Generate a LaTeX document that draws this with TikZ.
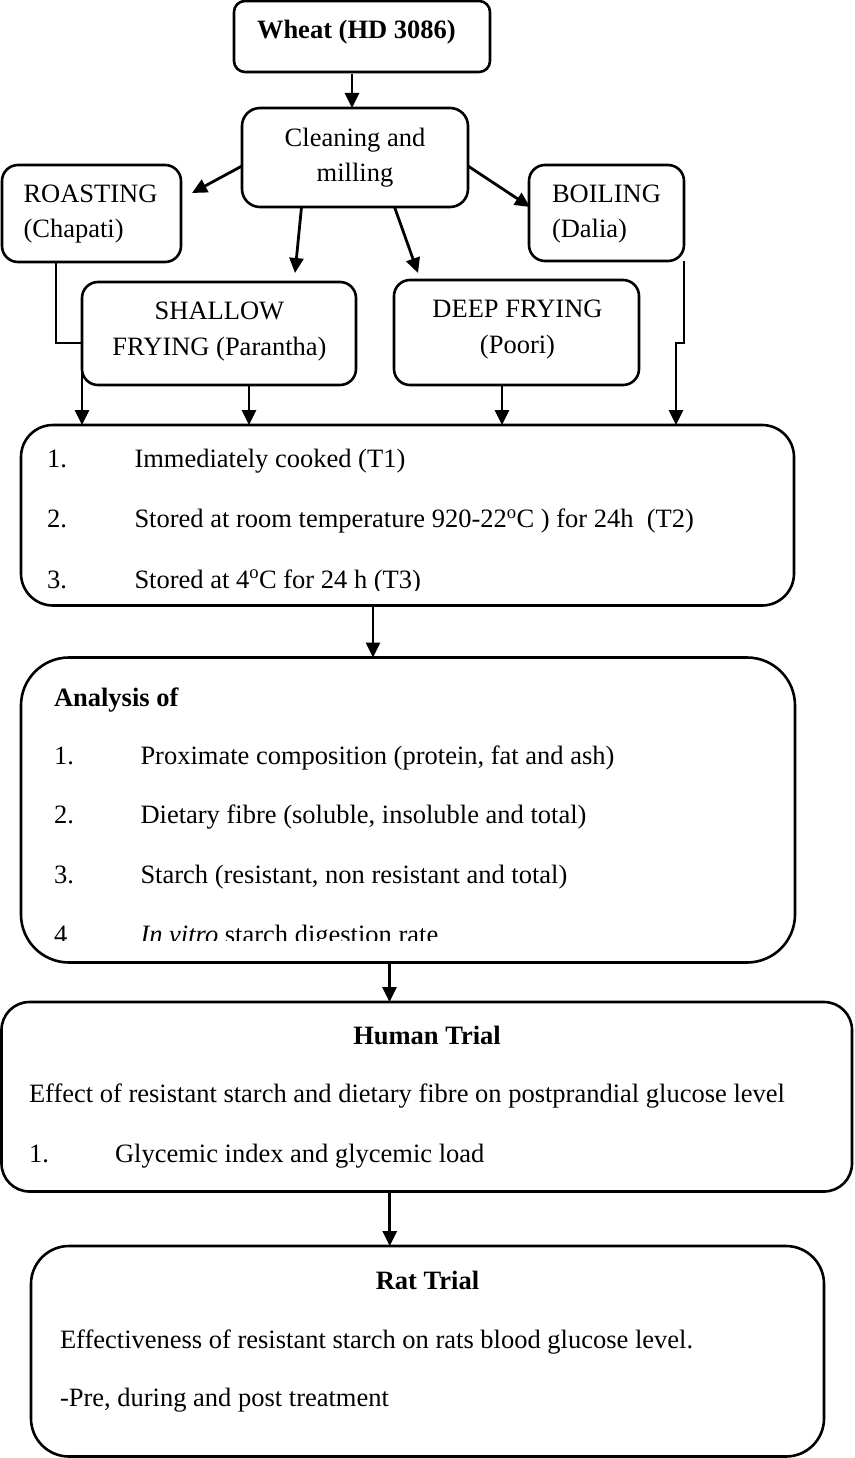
\documentclass[tikz,border=0pt]{standalone}
\usepackage{fontspec}
\setmainfont{Liberation Serif}
\usetikzlibrary{arrows.meta}
\begin{document}
\begin{tikzpicture}[x=1pt,y=-1pt,
  box/.style={draw, line width=2.6pt, inner sep=0pt, outer sep=0pt},
  lbl/.style={inner sep=0pt, outer sep=0pt, font=\fontsize{26.5}{30}\selectfont},
  lw/.style={lbl, anchor=base west},
  lc/.style={lbl, anchor=base},
  arr/.style={line width=2.8pt, -{Triangle[length=15pt,width=14pt]}}]
\useasboundingbox (0,0) rectangle (854,1458);

% boxes
\node[box, rounded corners=11pt, minimum width=256pt, minimum height=71pt] (wheat) at (362,36.5) {};
\node[box, rounded corners=18pt, minimum width=226pt, minimum height=99pt] (clean) at (355,157.5) {};
\node[box, rounded corners=16pt, minimum width=179pt, minimum height=97pt] (roast) at (91.5,213.5) {};
\node[box, rounded corners=16pt, minimum width=155pt, minimum height=96pt] (boil) at (606.5,213) {};
\node[box, rounded corners=16pt, minimum width=274pt, minimum height=103pt] (shallow) at (219,333.5) {};
\node[box, rounded corners=16pt, minimum width=245pt, minimum height=105pt] (deep) at (516.5,332.5) {};
\node[box, rounded corners=32pt, minimum width=773pt, minimum height=180.5pt] (tbox) at (407.5,515.25) {};
\node[box, rounded corners=48pt, minimum width=774pt, minimum height=305pt] (anal) at (408,810) {};
\node[box, rounded corners=28pt, minimum width=850.5pt, minimum height=189.5pt] (human) at (426.75,1096.75) {};
\node[box, rounded corners=38pt, minimum width=793pt, minimum height=210.5pt] (rat) at (427.5,1351.25) {};

% texts
\node[lw] (t-wheat) at (257,38.5) {\textbf{Wheat (HD 3086)}};
\node[lc] (t-clean1) at (355,146.5) {Cleaning and};
\node[lc] (t-clean2) at (355,181.5) {milling};
\node[lw] (t-roast1) at (23.5,203) {ROASTING};
\node[lw] (t-roast2) at (23.5,237.5) {(Chapati)};
\node[lw] (t-boil1) at (552,203) {BOILING};
\node[lw] (t-boil2) at (552,237.5) {(Dalia)};
\node[lc] (t-sh1) at (219.5,319.5) {SHALLOW};
\node[lc] (t-sh2) at (219.5,355) {FRYING (Parantha)};
\node[lc] (t-dp1) at (517.5,317.5) {DEEP FRYING};
\node[lc] (t-dp2) at (517.5,353) {(Poori)};

\node[lw] (t-n1) at (47,467.5) {1.};
\node[lw] (t-i1) at (134.5,467.5) {Immediately cooked (T1)};
\node[lw] (t-n2) at (47,527.5) {2.};
\node[lw] (t-i2) at (134.5,527.5) {Stored at room temperature 920-22\textsuperscript{o}C ) for 24h\ \ (T2)};
\begin{scope}
\clip (0,0) rectangle (854,590);
\node[lw] (t-n3) at (47,588) {3.};
\node[lw] (t-i3) at (134.5,588) {Stored at 4\textsuperscript{o}C for 24 h (T3)};
\end{scope}

\node[lw] (t-an) at (54,706.5) {\textbf{Analysis of}};
\node[lw] (t-a1n) at (54,764.5) {1.};
\node[lw] (t-a1) at (140.5,764.5) {Proximate composition (protein, fat and ash)};
\node[lw] (t-a2n) at (54,823.5) {2.};
\node[lw] (t-a2) at (140.5,823.5) {Dietary fibre (soluble, insoluble and total)};
\node[lw] (t-a3n) at (54,883.5) {3.};
\node[lw] (t-a3) at (140.5,883.5) {Starch (resistant, non resistant and total)};
\begin{scope}
\clip (0,600) rectangle (854,940);
\node[lw] (t-a4n) at (54,943) {4};
\node[lw] (t-a4) at (140.5,943) {\textit{In vitro} starch digestion rate};
\end{scope}

\node[lc] (t-hum) at (427,1044.5) {\textbf{Human Trial}};
\node[lw] (t-h1) at (29,1102.5) {Effect of resistant starch and dietary fibre on postprandial glucose level};
\node[lw] (t-h2n) at (29,1162.5) {1.};
\node[lw] (t-h2) at (115,1162.5) {Glycemic index and glycemic load};

\node[lc] (t-rat) at (427.5,1289.5) {\textbf{Rat Trial}};
\node[lw] (t-r1) at (60,1348.5) {Effectiveness of resistant starch on rats blood glucose level.};
\node[lw] (t-r2) at (60,1406.5) {-Pre, during and post treatment};

% connectors
\draw[arr] ([xshift=-10pt,yshift=-2pt]wheat.south) -- ([xshift=-10pt]wheat.south |- clean.north);
\draw[arr] ([yshift=-8.5pt]clean.west) -- ([xshift=11pt,yshift=20.5pt]roast.east);
\draw[arr] ([yshift=-8.5pt]clean.east) -- ([xshift=1pt,yshift=6pt]boil.west);
\draw[arr] ([xshift=-53.5pt]clean.south) -- ([xshift=76pt,yshift=9pt]shallow.north);
\draw[arr] ([xshift=39.5pt]clean.south) -- ([xshift=-98.5pt,yshift=7pt]deep.north);
\draw[arr] ([xshift=-35.5pt]roast.south) -- ++(0,81) -- ++(26,0) -- ([xshift=-325.5pt]tbox.north);
\draw[arr] ([xshift=30pt]shallow.south) -- ([xshift=30pt]shallow.south |- tbox.north);
\draw[arr] ([xshift=-14.5pt]deep.south) -- ([xshift=-14.5pt]deep.south |- tbox.north);
\draw[arr] (boil.south east) -- ++(0,82) -- ++(-8,0) -- ([xshift=268.5pt]tbox.north);
\draw[arr] ([xshift=-34.5pt]tbox.south) -- ([xshift=-34.5pt]tbox.south |- anal.north);
\draw[arr] ([xshift=-18.5pt]anal.south) -- ([xshift=-18.5pt]anal.south |- human.north);
\draw[arr] ([xshift=-37pt]human.south) -- ([xshift=-37pt]human.south |- rat.north);
\end{tikzpicture}
\end{document}
